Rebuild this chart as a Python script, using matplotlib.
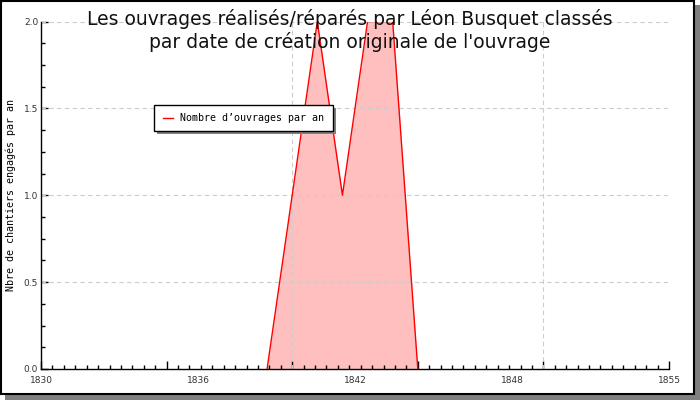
import numpy as np
from matplotlib import pyplot as plt
from matplotlib.patches import Rectangle
from matplotlib.ticker import FixedLocator, MultipleLocator

# data
annees = [1839, 1840, 1841, 1842, 1843, 1844, 1845]
nb_ouvrages = [0, 1, 2, 1, 2, 2, 0]

x_lab_pos = [1830, 1836.25, 1842.5, 1848.75, 1855]
x_lab_txt = ['1830', '1836', '1842', '1848', '1855']
y_ticks = [0.0, 0.5, 1.0, 1.5, 2.0]

titre = "Les ouvrages réalisés/réparés par Léon Busquet classés\npar date de création originale de l'ouvrage"

fig = plt.figure(figsize=(7, 4), dpi=100)

# cadre + ombre
fig.patches.append(Rectangle((5/700, 0), 695/700, 395/400, transform=fig.transFigure,
                             facecolor='#808080', edgecolor='none', zorder=0))
fig.patches.append(Rectangle((0.5/700, 6/400), 693.5/700, 393.5/400, transform=fig.transFigure,
                             facecolor='white', edgecolor='black', lw=1.5, zorder=1))

ax = fig.add_axes((41/700, 31/400, 628/700, 347.5/400))
ax.set_facecolor('none')
ax.set_zorder(2)

ax.fill_between(annees, nb_ouvrages, color='#ffbfbf', lw=0, zorder=1)
ax.plot(annees, nb_ouvrages, color='red', lw=1, zorder=3)

ax.set_xlim(1830, 1855)
ax.set_ylim(0, 2.0)

ax.spines['top'].set_visible(False)
ax.spines['right'].set_visible(False)
ax.spines['left'].set_linewidth(1)
ax.spines['bottom'].set_linewidth(1)

# ticks x: majeurs tous les 5 ans, 11 subdivisions
ax.xaxis.set_major_locator(MultipleLocator(5))
ax.xaxis.set_minor_locator(MultipleLocator(5/11))
ax.set_xticklabels([])
ax.tick_params(axis='x', which='major', direction='in', length=6, width=1)
ax.tick_params(axis='x', which='minor', direction='in', length=3, width=1)
for p, t in zip(x_lab_pos, x_lab_txt):
    ax.text(p, -0.02, t, ha='center', va='top', fontsize=6.5, color='#333333',
            transform=ax.get_xaxis_transform())

ax.yaxis.set_major_locator(FixedLocator(y_ticks))
ax.yaxis.set_minor_locator(MultipleLocator(0.125))
ax.set_yticklabels(['%.1f' % v for v in y_ticks], fontsize=6.5, color='#333333')
ax.tick_params(axis='y', which='major', direction='in', length=5, width=1, pad=2)
ax.tick_params(axis='y', which='minor', direction='in', length=3, width=1)

# grille
for v in y_ticks[1:]:
    ax.axhline(v, color='#cccccc', ls=(0, (4, 3)), lw=0.8, zorder=2)
for v in [1840, 1850]:
    ax.axvline(v, color='#cccccc', ls=(0, (4, 3)), lw=0.8, zorder=2)

ax.set_ylabel('Nbre de chantiers engagés par an', family='DejaVu Sans Mono',
              fontsize=7.2)
ax.yaxis.set_label_coords(-25/628, 0.5)

fig.text(350/700, 1 - 9/400, titre, ha='center', va='top', fontsize=13.5,
         linespacing=1.2, color='#111111')

# légende
fig.patches.append(Rectangle((157/700, 1 - 134/400), 179/700, 26/400, transform=fig.transFigure,
                             facecolor='#808080', edgecolor='none', zorder=5))
fig.patches.append(Rectangle((154/700, 1 - 131/400), 179/700, 26/400, transform=fig.transFigure,
                             facecolor='white', edgecolor='black', lw=1, zorder=6))
fig.lines.append(plt.Line2D([163/700, 173/700], [1 - 118/400] * 2, transform=fig.transFigure,
                            color='red', lw=1, zorder=7))
fig.text(180/700, 1 - 118/400, 'Nombre d’ouvrages par an', family='DejaVu Sans Mono',
         fontsize=7.2, va='center', ha='left', zorder=7)

plt.savefig('out.png', dpi=100)
